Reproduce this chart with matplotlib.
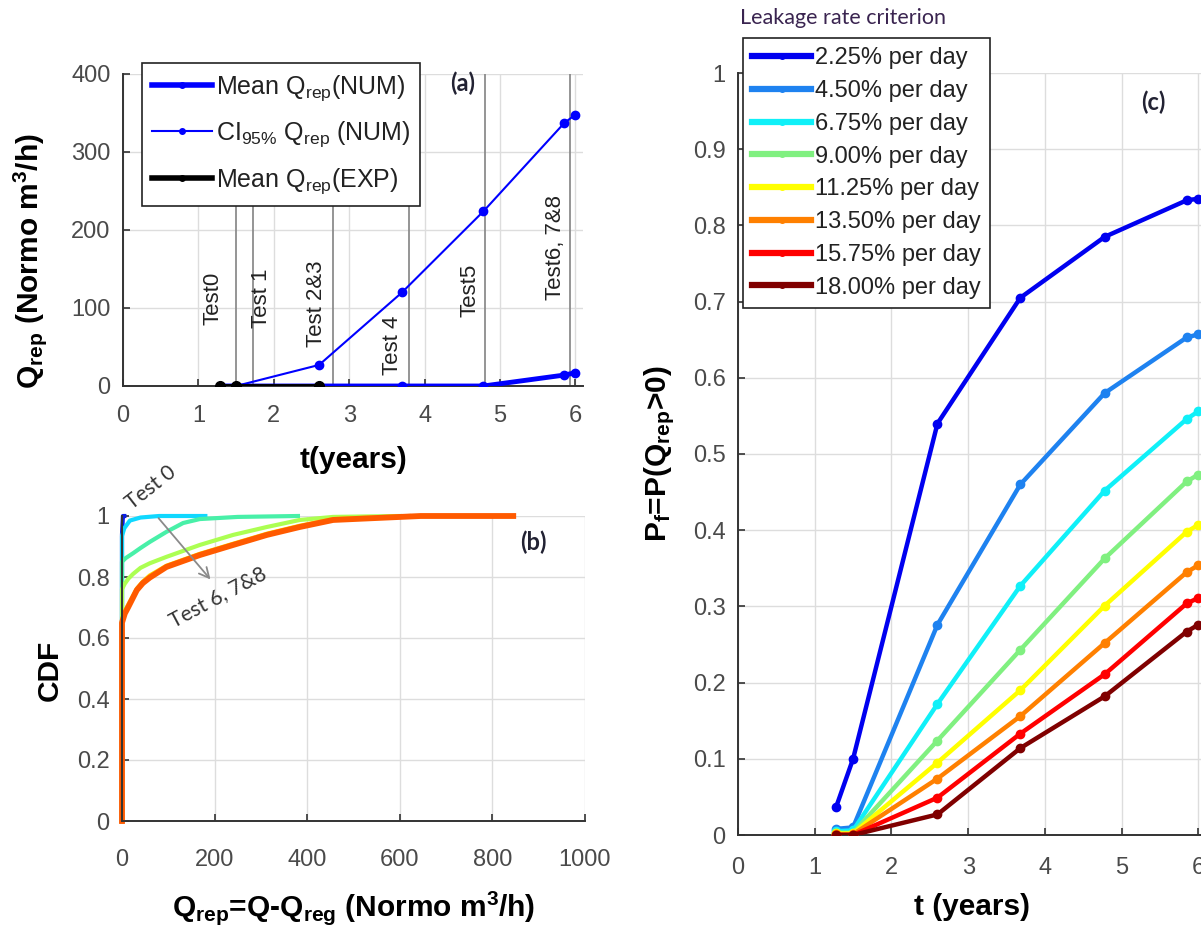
import matplotlib
matplotlib.use("Agg")
import matplotlib.pyplot as plt
from matplotlib.lines import Line2D

plt.rcParams['font.family'] = ['Liberation Sans', 'DejaVu Sans']
plt.rcParams['mathtext.default'] = 'regular'

# ---------------- data ----------------
# Panel (a)
t_num = [1.28, 1.5, 2.6, 3.7, 4.78, 5.85, 6.0]
ci95_num = [0, 0, 27, 120, 224, 337, 348]
mean_num = [0, 0, 0, 0, 0, 14, 17]
t_exp = [1.28, 1.5, 2.6]
mean_exp = [0, 0, 0]
test_times = [1.5, 1.73, 2.79, 3.79, 4.80, 5.93]
test_labels = ['Test0', 'Test 1', 'Test 2&3', 'Test 4', 'Test5', 'Test6, 7&8']

# Panel (b) empirical CDF curves (Q_rep, CDF)
cdf_test0_q = [0, 0, 2, 5]
cdf_test0_p = [0, 0.94, 1.0, 1.0]
cdf_test1_q = [0, 0, 5, 17, 40, 80, 180]
cdf_test1_p = [0, 0.935, 0.96, 0.985, 0.995, 1.0, 1.0]
cdf_test23_q = [0, 0, 8, 24, 40, 60, 96, 132, 168, 250, 380]
cdf_test23_p = [0, 0.85, 0.862, 0.878, 0.895, 0.915, 0.948, 0.977, 0.99, 0.997, 1.0]
cdf_test4_q = [0, 0, 6, 14, 24, 40, 60, 96, 168, 240, 313, 384, 456, 600]
cdf_test4_p = [0, 0.76, 0.778, 0.795, 0.81, 0.83, 0.845, 0.866, 0.905, 0.938, 0.964, 0.987, 0.997, 1.0]
cdf_test5_q = [0, 0, 6, 13, 32, 45, 60, 96, 168, 240, 313, 384, 456, 620]
cdf_test5_p = [0, 0.66, 0.688, 0.708, 0.762, 0.785, 0.805, 0.837, 0.876, 0.909, 0.942, 0.968, 0.99, 1.0]
cdf_test678_q = [0, 0, 6, 13, 32, 45, 60, 96, 168, 240, 313, 384, 456, 645, 845]
cdf_test678_p = [0, 0.65, 0.68, 0.70, 0.757, 0.78, 0.798, 0.833, 0.872, 0.905, 0.938, 0.964, 0.987, 1.0, 1.0]

# Panel (c)
t_c = [1.28, 1.5, 2.6, 3.68, 4.78, 5.85, 6.0]
crit_labels = ['2.25% per day', '4.50% per day', '6.75% per day', '9.00% per day',
               '11.25% per day', '13.50% per day', '15.75% per day', '18.00% per day']
pf_225 = [0.037, 0.10, 0.54, 0.705, 0.785, 0.833, 0.835]
pf_450 = [0.008, 0.010, 0.276, 0.46, 0.58, 0.653, 0.657]
pf_675 = [0.005, 0.006, 0.172, 0.327, 0.452, 0.546, 0.556]
pf_900 = [0.003, 0.003, 0.124, 0.243, 0.363, 0.464, 0.473]
pf_1125 = [0.002, 0.002, 0.095, 0.19, 0.301, 0.398, 0.407]
pf_1350 = [0.001, 0.001, 0.074, 0.156, 0.252, 0.345, 0.354]
pf_1575 = [0.0, 0.0, 0.049, 0.133, 0.211, 0.304, 0.311]
pf_1800 = [0.0, 0.0, 0.027, 0.114, 0.182, 0.267, 0.276]

# ---------------- style ----------------
W, H = 1201, 931
fig = plt.figure(figsize=(W / 100, H / 100), dpi=100)

TICK_FS = 17
LAB_FS = 21.5
TICK_COL = '#4a4a4a'
AX_COL = '#333333'
GRID_COL = '#dddddd'


def ax_px(l, r, t, b):
    return fig.add_axes([l / W, 1 - b / H, (r - l) / W, (b - t) / H])


def style(ax, xpad):
    for s in ['top', 'right']:
        ax.spines[s].set_visible(False)
    for s in ['left', 'bottom']:
        ax.spines[s].set_color(AX_COL)
        ax.spines[s].set_linewidth(1.4)
    ax.tick_params(direction='in', length=5, width=1.2, color=AX_COL,
                   labelsize=TICK_FS, labelcolor=TICK_COL)
    ax.tick_params(axis='x', pad=xpad)
    ax.tick_params(axis='y', pad=9)
    ax.grid(True, color=GRID_COL, linewidth=1.0)
    ax.set_axisbelow(True)


label_font = dict(family=['Lato', 'DejaVu Sans'], fontweight='bold', fontsize=17, color='#222233')

# ---------------- panel (a) ----------------
axA = ax_px(123, 583, 74, 386)
style(axA, 14)
axA.set_xlim(0, 6.1)
axA.set_ylim(0, 400)
axA.set_xticks(range(0, 7))
axA.set_yticks(range(0, 401, 100))
for tt in test_times:
    axA.axvline(tt, color='#8c8c8c', lw=1.3, zorder=1.5)
text_pos = [(1.20, 78), (1.84, 74), (2.56, 50), (3.58, 14), (4.60, 89), (5.73, 110)]
for (x, y), lab in zip(text_pos, test_labels):
    axA.text(x, y, lab, rotation=90, ha='center', va='bottom', fontsize=16, color='#222222')
axA.plot(t_num, ci95_num, '-', color='#0000ff', lw=1.5, marker='o', ms=6, zorder=3)
axA.plot(t_num, mean_num, '-', color='#0000ff', lw=3.5, marker='o', ms=6, zorder=3)
axA.plot(t_exp, mean_exp, '-', color='black', lw=3.5, marker='o', ms=7, zorder=4)
axA.set_xlabel('t(years)', fontsize=LAB_FS, fontweight='bold', labelpad=13)
axA.set_ylabel('Q$_{rep}$ (Normo m$^3$/h)', fontsize=LAB_FS, fontweight='bold')
axA.yaxis.set_label_coords(-0.16, 0.40)
handlesA = [Line2D([], [], color='#0000ff', lw=4, marker='o', ms=4),
            Line2D([], [], color='#0000ff', lw=1.5, marker='o', ms=4),
            Line2D([], [], color='black', lw=4, marker='o', ms=4)]
labelsA = ['Mean Q$_{rep}$(NUM)', 'CI$_{95\\%}$ Q$_{rep}$ (NUM)', 'Mean Q$_{rep}$(EXP)']
legA = axA.legend(handlesA, labelsA, loc='upper left', bbox_to_anchor=(142 / W, 1 - 63 / H),
                  bbox_transform=fig.transFigure, borderaxespad=0, fontsize=18, frameon=True,
                  fancybox=False, edgecolor='#222222', framealpha=1, handlelength=2.4,
                  handletextpad=0.15, labelspacing=0.68, borderpad=0.4)
legA.get_frame().set_linewidth(1.2)
for t in legA.get_texts():
    t.set_color('#222222')
axA.text(0.739, 0.971, '(a)', transform=axA.transAxes, ha='center', va='center', **label_font)

# ---------------- panel (b) ----------------
axB = ax_px(122, 585, 516, 821)
style(axB, 20)
axB.set_xlim(0, 1000)
axB.set_ylim(0, 1)
axB.set_xticks(range(0, 1001, 200))
axB.set_yticks([0, 0.2, 0.4, 0.6, 0.8, 1.0])
axB.set_yticklabels(['0', '0.2', '0.4', '0.6', '0.8', '1'])
axB.set_xticklabels(['0', '200', '400', '600', '800', '1000'])
cdfs = [(cdf_test0_q, cdf_test0_p, '#0a1ee6', 3.0),
        (cdf_test1_q, cdf_test1_p, '#10d8ff', 3.0),
        (cdf_test23_q, cdf_test23_p, '#48f0a8', 3.0),
        (cdf_test4_q, cdf_test4_p, '#acff52', 3.0),
        (cdf_test5_q, cdf_test5_p, '#ffd800', 3.0),
        (cdf_test678_q, cdf_test678_p, '#ff5a00', 4.2)]
for q, p, c, lw in cdfs:
    axB.plot(q, p, '-', color=c, lw=lw, clip_on=False)
axB.annotate('', xy=(195, 0.785), xytext=(75, 1.0),
             arrowprops=dict(arrowstyle='->', color='#8a8a8a', lw=1.3, mutation_scale=18))
small_font = dict(family=['Lato', 'DejaVu Sans'], fontsize=15, color='#333333')
axB.text(0.0, 1.01, 'Test 0', transform=axB.transAxes, rotation=38, ha='left', va='bottom', **small_font)
axB.text(0.208, 0.734, 'Test 6, 7&8', transform=axB.transAxes, rotation=28, ha='center', va='center', **small_font)
axB.text(0.888, 0.915, '(b)', transform=axB.transAxes, ha='center', va='center', **label_font)
axB.set_xlabel('Q$_{rep}$=Q-Q$_{reg}$ (Normo m$^3$/h)', fontsize=LAB_FS, fontweight='bold', labelpad=13)
axB.set_ylabel('CDF', fontsize=LAB_FS, fontweight='bold')
axB.yaxis.set_label_coords(-0.125, 0.495)

# ---------------- panel (c) ----------------
axC = ax_px(738, 1206, 73, 835)
style(axC, 16)
axC.set_xlim(0, 6.1)
axC.set_ylim(0, 1)
axC.set_xticks(range(0, 7))
yt = [i / 10 for i in range(11)]
axC.set_yticks(yt)
axC.set_yticklabels(['0'] + ['%.1f' % v for v in yt[1:-1]] + ['1'])
pf_all = [pf_225, pf_450, pf_675, pf_900, pf_1125, pf_1350, pf_1575, pf_1800]
colors_c = ['#0000f0', '#1e82f0', '#10f0f8', '#80f080', '#ffff00', '#ff8000', '#ff0000', '#800000']
handlesC = []
for pf, c, lab in zip(pf_all, colors_c, crit_labels):
    axC.plot(t_c, pf, '-', color=c, lw=3.2, marker='o', ms=6, zorder=3)
    handlesC.append(Line2D([], [], color=c, lw=4.5, marker='o', ms=4))
legC = axC.legend(handlesC, crit_labels, loc='upper left', bbox_to_anchor=(743 / W, 1 - 38 / H),
                  bbox_transform=fig.transFigure, borderaxespad=0, fontsize=17, frameon=True,
                  fancybox=False, edgecolor='#222222', framealpha=1, handlelength=2.5,
                  handletextpad=0.15, labelspacing=0.455, borderpad=0.4)
legC.get_frame().set_linewidth(1.2)
for t in legC.get_texts():
    t.set_color('#222222')
fig.text(740 / W, 1 - 18 / H, 'Leakage rate criterion', ha='left', va='center',
         family=['Lato', 'DejaVu Sans'], fontsize=15.5, color='#3a2450')
axC.text(0.887, 0.962, '(c)', transform=axC.transAxes, ha='center', va='center', **label_font)
axC.set_xlabel('t (years)', fontsize=LAB_FS, fontweight='bold', labelpad=10)
axC.set_ylabel('P$_f$=P(Q$_{rep}$>0)', fontsize=LAB_FS, fontweight='bold')
axC.yaxis.set_label_coords(-0.13, 0.50)

fig.savefig('out.png', dpi=100)
